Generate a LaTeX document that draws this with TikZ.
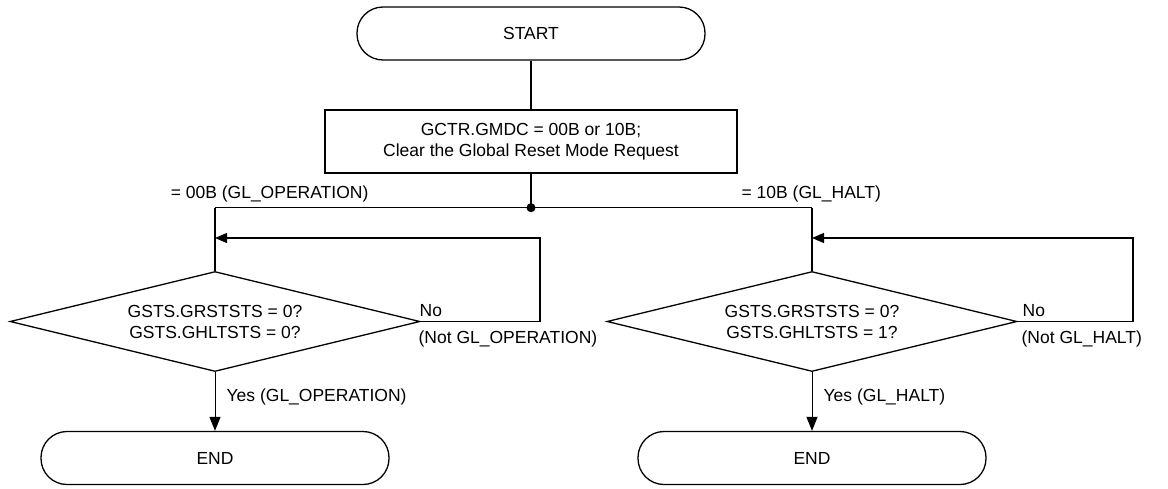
\documentclass[tikz,border=0pt]{standalone}
\usepackage{fontspec}
\setmainfont{Liberation Sans}
\usetikzlibrary{shapes.geometric,arrows.meta}
\newcommand\dfont{\fontsize{17.5}{21}\selectfont}
\begin{document}
\begin{tikzpicture}[x=1pt,y=-1pt,line width=1.3pt,
  term/.style={draw,rectangle,rounded corners=26pt,minimum width=348pt,minimum height=53pt,inner sep=0pt,font=\dfont},
  procbox/.style={draw,rectangle,minimum width=412pt,minimum height=63pt,inner sep=0pt,align=center,font=\dfont},
  decision/.style={draw,diamond,aspect=4.1,minimum width=410pt,minimum height=100pt,inner sep=0pt,align=center,font=\dfont},
  lbl/.style={font=\dfont,inner sep=0pt},
  arr/.style={-{Triangle[length=12pt,width=10pt]}},
  arrb/.style={-{Triangle[length=14pt,width=11pt]}}]
\useasboundingbox (0,0) rectangle (1168,488);
\node[term] (start) at (531,33.5) {START};
\node[procbox] (init) at (531,141.5) {GCTR.GMDC = 00B or 10B;\\Clear the Global Reset Mode Request};
\coordinate (j) at (531,207.7);
\coordinate (jl) at (215,207.7);
\coordinate (jr) at (812,207.7);
\node[decision] (d1) at (215,321.5) {GSTS.GRSTSTS = 0?\\GSTS.GHLTSTS = 0?};
\node[decision] (d2) at (812,321.5) {GSTS.GRSTSTS = 0?\\GSTS.GHLTSTS = 1?};
\node[term] (e1) at (215,458) {END};
\node[term] (e2) at (812,458) {END};
\coordinate (l1) at (540,238);
\coordinate (l2) at (1133,238);
\draw (start) -- (init);
\draw (init) -- (j);
\fill (j) circle (4.5pt);
\draw (jl) -- (jr);
\draw (jl) -- (d1.north);
\draw (jr) -- (d2.north);
\draw[arr] (d1.east) -- (d1.east -| l1) -- (l1) -- (l1 -| d1.north);
\draw[arr] (d2.east) -- (d2.east -| l2) -- (l2) -- (l2 -| d2.north);
\draw[arrb,line width=1pt] (d1.south) -- (e1.north);
\draw[arrb,line width=1pt] (d2.south) -- (e2.north);
\node[lbl,anchor=base east] (t1) at (369,198.5) {= 00B (GL\_OPERATION)};
\node[lbl,anchor=base west] (t2) at (741,198.5) {= 10B (GL\_HALT)};
\node[lbl,anchor=base west] (n1) at (419,316) {No};
\node[lbl,anchor=base west] (n1b) at (418,343) {(Not GL\_OPERATION)};
\node[lbl,anchor=base west] (n2) at (1022,316) {No};
\node[lbl,anchor=base west] (n2b) at (1021,343) {(Not GL\_HALT)};
\node[lbl,anchor=base west] (y1) at (226,401) {Yes (GL\_OPERATION)};
\node[lbl,anchor=base west] (y2) at (823,401) {Yes (GL\_HALT)};
\end{tikzpicture}
\end{document}
